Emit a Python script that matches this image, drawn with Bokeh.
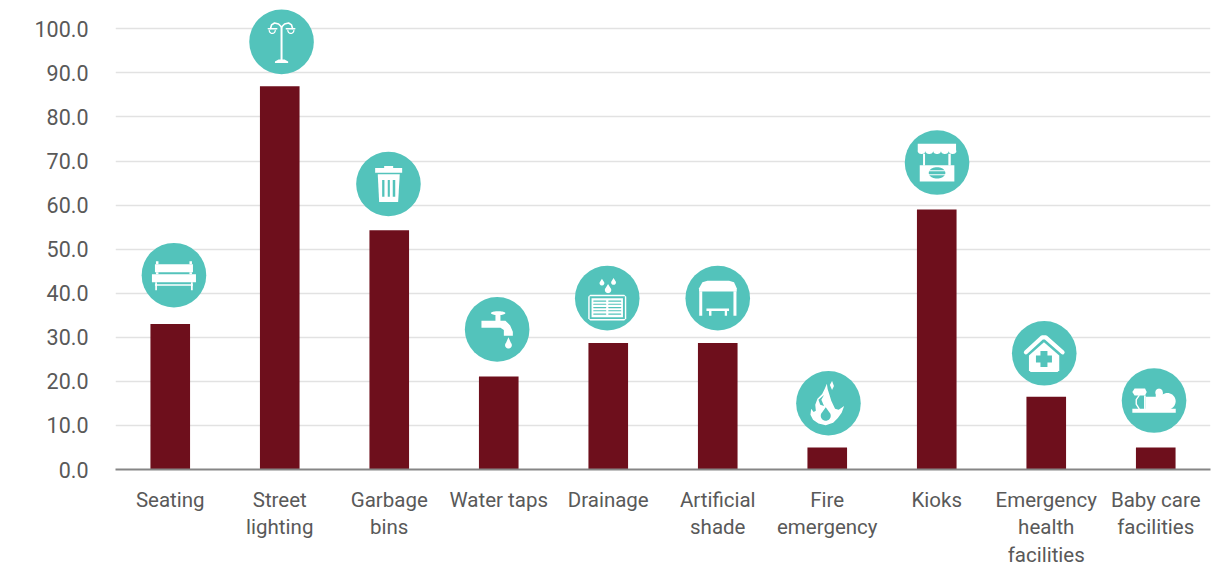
from math import cos, sin, pi

from bokeh.embed import file_html
from bokeh.models import ColumnDataSource, FixedTicker, Range1d
from bokeh.plotting import figure
from bokeh.resources import INLINE

# Share of respondents per public facility
categories = ["Seating", "Street\nlighting", "Garbage\nbins", "Water taps", "Drainage",
              "Artificial\nshade", "Fire\nemergency", "Kioks", "Emergency\nhealth\nfacilities",
              "Baby care\nfacilities"]
values = [33.0, 87.0, 54.3, 21.1, 28.7, 28.7, 5.0, 59.0, 16.5, 5.0]
y_ticks = [0, 10, 20, 30, 40, 50, 60, 70, 80, 90, 100]

# Badge placement relative to each bar, in screen pixels
badge_shift = [3.7, 1.8, -0.8, -1.6, -1.0, 0.0, 1.2, 0.3, -2.0, -1.7]
badge_lift = [49.0, 44.3, 46.3, 47.2, 45.0, 45.0, 44.3, 47.0, 43.6, 47.0]
badge_names = ["bench", "lamp", "bin", "tap", "drain", "shelter", "flame", "kiosk", "clinic", "pram"]

WIDTH, HEIGHT = 1224, 569
LEFT, RIGHT = 115, 1209.7
BASE_Y = 470
PX_PER_UNIT = 4.416
PX_PER_SLOT = (RIGHT - LEFT) / len(categories)

TEAL = "#53c3bb"
WINE = "#6e0f1c"
WHITE = "#ffffff"
GREY = "#595959"
FONT = "Roboto"

p = figure(width=WIDTH, height=HEIGHT, output_backend="svg", toolbar_location=None,
           x_range=Range1d(-0.5, len(categories) - 0.5),
           y_range=Range1d(0, BASE_Y / PX_PER_UNIT),
           min_border_left=LEFT, min_border_right=WIDTH - int(RIGHT) - 1,
           min_border_top=0, min_border_bottom=HEIGHT - BASE_Y)
p.outline_line_color = None
p.background_fill_color = WHITE

p.yaxis.ticker = FixedTicker(ticks=y_ticks)
p.yaxis.major_label_overrides = {t: f"{t:.1f}" for t in y_ticks}
p.yaxis.axis_line_color = None
p.yaxis.major_tick_line_color = None
p.yaxis.minor_tick_line_color = None
p.yaxis.major_label_text_font = FONT
p.yaxis.major_label_text_font_size = "21.5px"
p.yaxis.major_label_text_color = GREY
p.yaxis.major_label_standoff = 21

p.xaxis.ticker = FixedTicker(ticks=list(range(len(categories))))
p.xaxis.major_label_overrides = {i: c for i, c in enumerate(categories)}
p.xaxis.axis_line_color = "#868686"
p.xaxis.axis_line_width = 2
p.xaxis.major_tick_line_color = None
p.xaxis.minor_tick_line_color = None
p.xaxis.major_label_text_font = FONT
p.xaxis.major_label_text_font_size = "20.5px"
p.xaxis.major_label_text_line_height = 1.15
p.xaxis.major_label_text_color = GREY
p.xaxis.major_label_standoff = 12

p.xgrid.visible = False
p.ygrid.ticker = FixedTicker(ticks=y_ticks[1:])
p.ygrid.grid_line_color = "#e2e2e2"
p.ygrid.grid_line_width = 1.5

source = ColumnDataSource(dict(x=list(range(len(categories))), top=values))
p.vbar(x="x", top="top", width=39.6 / PX_PER_SLOT, bottom=0, source=source,
       fill_color=WINE, line_color=None)

badge_x = [i + badge_shift[i] / PX_PER_SLOT for i in range(len(values))]
badge_y = [values[i] + badge_lift[i] / PX_PER_UNIT for i in range(len(values))]
p.scatter(badge_x, badge_y, size=64.6, marker="circle", fill_color=TEAL, line_color=None)


class Pen:
    """Draws icon parts given in pixels, y downwards, around a badge centre."""

    def __init__(self, index):
        self.cx, self.cy = badge_x[index], badge_y[index]

    def _xy(self, pts):
        return ([self.cx + x / PX_PER_SLOT for x, _ in pts],
                [self.cy - y / PX_PER_UNIT for _, y in pts])

    def poly(self, pts, color=WHITE):
        xs, ys = self._xy(pts)
        p.patch(xs, ys, fill_color=color, line_color=None)

    def rect(self, x0, x1, y0, y1, color=WHITE):
        self.poly([(x0, y0), (x1, y0), (x1, y1), (x0, y1)], color)

    def line(self, pts, width=1.5, color=WHITE):
        xs, ys = self._xy(pts)
        p.line(xs, ys, line_color=color, line_width=width, line_cap="round", line_join="round")

    def disc(self, x, y, r, color=WHITE, ry=None):
        ry = r if ry is None else ry
        steps = 40
        self.poly([(x + r * cos(2 * pi * k / steps), y + ry * sin(2 * pi * k / steps))
                   for k in range(steps)], color)

    def drop(self, x, y, r, tip, color=WHITE):
        steps = 24
        pts = [(x, y - tip)]
        pts += [(x + r * cos(-0.25 * pi + 1.5 * pi * k / steps), y + r * sin(-0.25 * pi + 1.5 * pi * k / steps))
                for k in range(steps + 1)]
        self.poly(pts, color)


def bench(d):
    d.rect(-19, 19, -11, -3)
    d.rect(-18, -15.5, -14, -11)
    d.rect(15.5, 18, -14, -11)
    d.rect(-18, -15.5, -3, -1)
    d.rect(15.5, 18, -3, -1)
    d.rect(-22, 22, -1, 7)
    d.rect(-19, 19, 9, 10.5)
    d.rect(-18.7, -17, 7, 15)
    d.rect(17, 18.8, 7, 15)


def lamp(d):
    d.rect(-1, 1, -16, 18)
    d.poly([(-3, 17.5), (3, 17.5), (6.6, 19.5), (6.6, 21), (-6.6, 21), (-6.6, 19.5)])
    d.line([(0, -15), (-3, -18), (-7, -19), (-10, -17), (-11, -13.5)], 1.6)
    d.line([(0, -15), (3, -18), (7, -19), (10, -17), (11, -13.5)], 1.6)
    d.line([(-13.3, -13.2), (-4.7, -13.2)], 1.3)
    d.line([(13.3, -13.2), (4.7, -13.2)], 1.3)
    for x in (-9.3, 9.3):
        d.line([(x + 3 * cos(pi * k / 12), -11.5 + 3 * sin(pi * k / 12)) for k in range(13)], 1.2)


def litter_bin(d):
    d.rect(-4.3, 4.7, -18, -15.5)
    d.rect(-13.3, 13.7, -16, -11.3)
    d.poly([(-10.7, -9.7), (11.3, -9.7), (9.7, 18), (-9.3, 18)])
    d.rect(-6.3, -4, -4, 12.7, TEAL)
    d.rect(-0.7, 1.4, -4, 12.7, TEAL)
    d.rect(4.3, 6.8, -4, 12.7, TEAL)


def tap(d):
    d.disc(1, -16.3, 7.2, ry=2)
    d.rect(-1.7, 3.3, -16, -8)
    d.poly([(-15.7, -8.7), (8.3, -8.7), (13, -4), (15.7, 2.3), (15.7, 6.3), (6.7, 6.3),
            (6.7, 0.7), (3.3, -1.7), (-15.7, -1.7)])
    d.drop(11.3, 15.8, 3.4, 8)


def drain(d):
    d.drop(-5.3, -15, 2.4, 4.5)
    d.drop(6.3, -15.7, 2.4, 4.5)
    d.drop(0.8, -8.2, 3.2, 6)
    d.poly([(-17, -3.3), (17, -3.3), (19, -1.3), (19, 20.3), (17, 22.3), (-17, 22.3), (-19, 20.3), (-19, -1.3)])
    d.rect(-17.6, 17.6, -1.9, 20.9, TEAL)
    d.rect(-15.7, 15.7, 0, 19.2)
    for y in (3, 6.2, 9.5, 12.7, 16):
        d.line([(-13.5, y), (-1.5, y)], 1.1, TEAL)
        d.line([(1.5, y), (13.5, y)], 1.1, TEAL)


def shelter(d):
    d.poly([(-18.7, -6.7), (-18.7, -10), (-15.3, -16), (-10.3, -17.3), (11.3, -17.3),
            (16.3, -16), (19, -10), (19, -6.7)])
    d.rect(-18.5, -15.5, -7, 17.7)
    d.rect(15.7, 18.7, -7, 17.7)
    d.rect(-11.3, 11.3, 10.3, 13)
    d.rect(-8.7, -6.3, 13, 17.7)
    d.rect(7, 9.3, 13, 17.7)


def flame(d):
    d.poly([(-17.3, 5.6), (-14.8, 8.8), (-12.6, 7.6), (-13.2, 1.6), (-11, -4.4), (-6.3, -9.2),
            (-3.8, -14.4), (-1.6, -19.6), (-0.8, -14.4), (1.1, -8.4), (2.8, -2.4), (6.6, 5.6),
            (10.2, 6.4), (15.7, 2.8), (13.2, 9.6), (9.4, 14.8), (4.7, 19.6), (-2.7, 22),
            (-10, 20.4), (-15.4, 16.4), (-18, 11.6)])
    d.poly([(3.6, -22.4), (1.4, -18.4), (3.6, -13.2), (5.5, -17.2)])
    d.poly([(-4.4, -8.4), (-7.1, -3.6), (-4.4, 2.8), (-8.2, 1.6), (-10, -3.6)], TEAL)
    d.drop(-2.7, 12.5, 5, 8.5, TEAL)


def kiosk(d):
    d.rect(-19.3, 19, -19, -11.3)
    for x in (-15.5, -7.8, 0, 7.8, 15.5):
        d.disc(x, -11.3, 3.8, ry=2.6)
    d.rect(-14, -12, -9, 3)
    d.rect(11.3, 13.7, -9, 3)
    d.rect(-17.3, 17.3, 2.7, 19)
    d.disc(0, 10.3, 8.3, TEAL, ry=5.7)
    d.line([(-8.5, 8.2), (8.5, 8.2)], 1.1)
    d.line([(-8.5, 12.2), (8.5, 12.2)], 1.1)


def clinic(d):
    d.poly([(-0.3, -11), (-15.3, 2.3), (-15.3, 17), (-13.6, 18.7), (13.3, 18.7), (15, 17), (15, 2.3)])
    d.line([(-18.3, -1), (-2, -16), (1.4, -16), (18.3, -1)], 4.2)
    d.rect(-8.3, 7.7, 2.2, 9.2, TEAL)
    d.rect(-3.8, 3.2, -2.3, 13.7, TEAL)


def pram(d):
    d.rect(-21.7, 21.7, 8.3, 12.3)
    d.rect(-8.3, 13.3, -3.7, 8.5)
    d.disc(13.3, 0.7, 8.3)
    d.disc(5, -8.3, 3.7)
    d.rect(1.7, 8.7, -8.3, -3)
    d.poly([(-19.5, -12), (-9, -12), (-7.3, -8.5), (-9, -5), (-19.5, -5), (-21.7, -8.5)])
    d.line([(-15, -5), (-17.8, -1), (-17.8, 3.5), (-15, 8)], 1.4)
    d.rect(-10, -8.3, -5, 8.5)


icon_painters = dict(bench=bench, lamp=lamp, bin=litter_bin, tap=tap, drain=drain,
                     shelter=shelter, flame=flame, kiosk=kiosk, clinic=clinic, pram=pram)
for i, name in enumerate(badge_names):
    icon_painters[name](Pen(i))

open("out.html", "w").write(file_html(p, INLINE))
